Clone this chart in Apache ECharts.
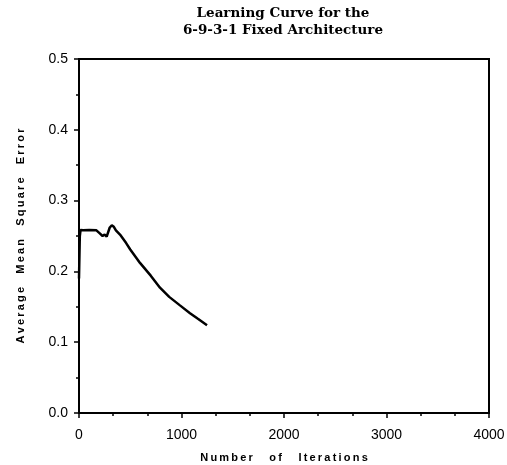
<!DOCTYPE html>
<html>
<head>
<meta charset="utf-8">
<script src="https://cdn.jsdelivr.net/npm/echarts@6/dist/echarts.min.js"></script>
<style>html,body{margin:0;padding:0;background:#fff}#c{width:507px;height:465px}</style>
</head>
<body>
<div id="c"></div>
<script>
var titleLines = ["Learning Curve for the", "6-9-3-1 Fixed Architecture"];
var xNameWords = ["Number", "of", "Iterations"];
var yNameWords = ["Average", "Mean", "Square", "Error"];
var iterations = [0, 8, 15, 40, 100, 170, 200, 230, 250, 270, 300, 320, 340, 360, 400, 460, 500, 560, 595, 700, 790, 880, 985, 1083, 1160, 1249];
var mse = [0.19, 0.25, 0.2585, 0.258, 0.2585, 0.258, 0.254, 0.250, 0.252, 0.249, 0.262, 0.265, 0.263, 0.258, 0.252, 0.240, 0.231, 0.219, 0.212, 0.194, 0.177, 0.164, 0.152, 0.141, 0.133, 0.124];

function spaced(words, gap) {
  return words.map(function (w) { return w.split('').join('\u2009'); }).join(gap);
}

var chart = echarts.init(document.getElementById('c'));
chart.setOption({
  animation: false,
  title: {
    text: titleLines.join('\n'),
    left: 278, top: 0, textAlign: 'center',
    textStyle: {fontFamily: 'DejaVu Serif', fontWeight: 'bold', fontSize: 13.5, color: '#000', lineHeight: 17}
  },
  grid: {left: 79, right: 18, top: 59, bottom: 52, show: true, borderColor: '#000', borderWidth: 2,
    containLabel: false, outerBoundsMode: 'none'},
  xAxis: {
    type: 'value', min: 0, max: 4000, interval: 1000,
    name: spaced(xNameWords, '\u2003\u2002'), nameLocation: 'middle', nameGap: 39,
    nameTextStyle: {fontFamily: 'Liberation Sans', fontWeight: 'bold', fontSize: 11, color: '#000'},
    axisLine: {lineStyle: {color: '#000', width: 2}},
    axisTick: {length: 5, lineStyle: {color: '#000', width: 1.5}},
    minorTick: {show: true, splitNumber: 3, length: 3, lineStyle: {color: '#000', width: 1.5}},
    axisLabel: {fontFamily: 'Liberation Sans', fontSize: 14, color: '#000', margin: 15,
      formatter: function (v) { return String(v); }},
    splitLine: {show: false}
  },
  yAxis: {
    type: 'value', min: 0, max: 0.5, interval: 0.1,
    name: spaced(yNameWords, '\u2003\u2009'), nameLocation: 'middle', nameGap: 53,
    nameTextStyle: {fontFamily: 'Liberation Sans', fontWeight: 'bold', fontSize: 11, color: '#000'},
    axisLine: {show: true, lineStyle: {color: '#000', width: 2}},
    axisTick: {show: true, length: 5, lineStyle: {color: '#000', width: 1.5}},
    minorTick: {show: true, splitNumber: 2, length: 3, lineStyle: {color: '#000', width: 1.5}},
    axisLabel: {fontFamily: 'Liberation Sans', fontSize: 14, color: '#000', margin: 11,
      formatter: function (v) { return v.toFixed(1); }},
    splitLine: {show: false}
  },
  series: [{
    type: 'line',
    data: iterations.map(function (x, i) { return [x, mse[i]]; }),
    showSymbol: false,
    lineStyle: {color: '#000', width: 2.5},
    smooth: false
  }]
});
</script>
</body>
</html>
